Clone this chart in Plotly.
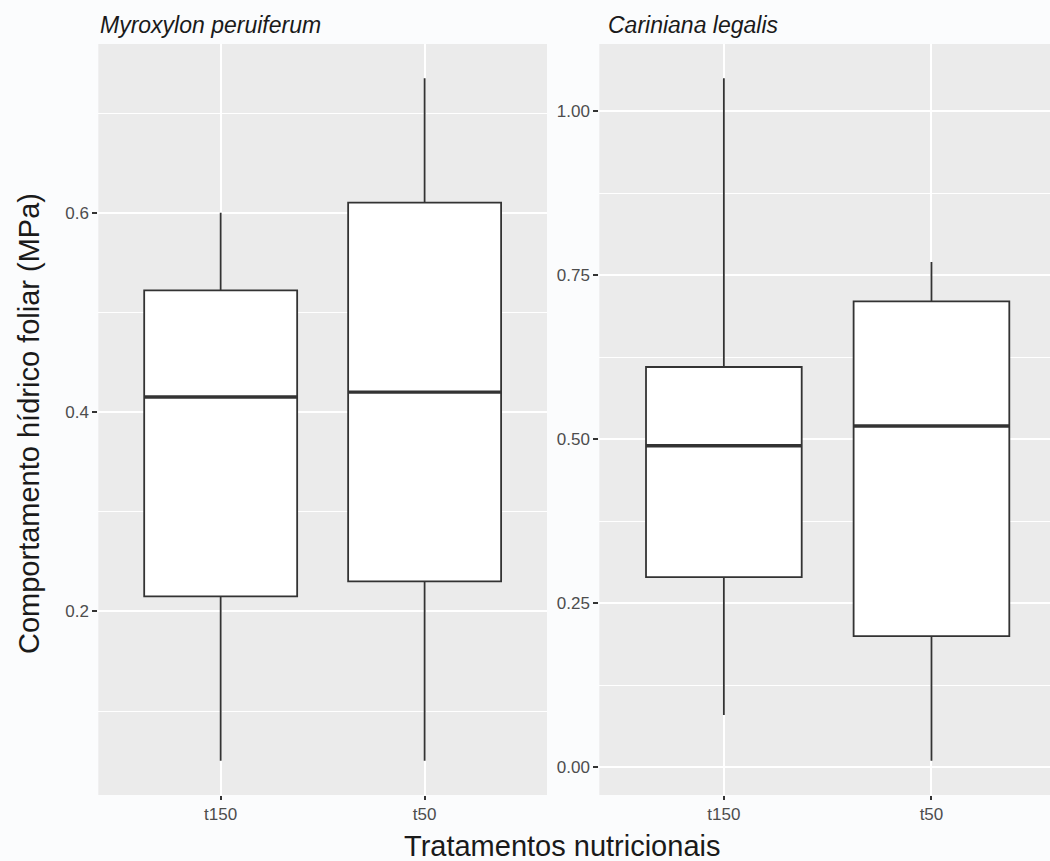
import plotly.graph_objects as go

species = ["Myroxylon peruiferum", "Cariniana legalis"]
treatments = ["t150", "t50"]

myro_lower = [0.05, 0.05]
myro_q1 = [0.215, 0.230]
myro_median = [0.415, 0.420]
myro_q3 = [0.522, 0.610]
myro_upper = [0.600, 0.735]

cari_lower = [0.08, 0.01]
cari_q1 = [0.290, 0.200]
cari_median = [0.490, 0.520]
cari_q3 = [0.610, 0.710]
cari_upper = [1.050, 0.770]

left_ticks = [0.2, 0.4, 0.6]
right_ticks = [0.0, 0.25, 0.5, 0.75, 1.0]
right_ticklabels = ["0.00", "0.25", "0.50", "0.75", "1.00"]

FONT = "Liberation Sans, Arial, Helvetica, sans-serif"
LINE = "#333333"
BOXW = 0.75
W, H = 1050, 861

fig = go.Figure()
xpos = list(range(len(treatments)))

panels = [
    (myro_lower, myro_q1, myro_median, myro_q3, myro_upper, "x", "y"),
    (cari_lower, cari_q1, cari_median, cari_q3, cari_upper, "x2", "y2"),
]
for lo, q1, med, q3, up, xa, ya in panels:
    fig.add_trace(go.Box(
        x=xpos, lowerfence=lo, q1=q1, median=med, q3=q3, upperfence=up,
        width=BOXW, whiskerwidth=0, fillcolor="white",
        line=dict(color=LINE, width=1.8), boxpoints=False,
        showlegend=False, xaxis=xa, yaxis=ya, hoverinfo="skip"))
    for i, m in zip(xpos, med):
        fig.add_trace(go.Scatter(
            x=[i - BOXW / 2, i + BOXW / 2], y=[m, m], mode="lines",
            line=dict(color=LINE, width=3.4), showlegend=False,
            xaxis=xa, yaxis=ya, hoverinfo="skip"))

def yrange(lo, up):
    mn, mx = min(lo), max(up)
    e = 0.05 * (mx - mn)
    return [mn - e, mx + e]

ydom = [66 / H, 817 / H]
tickfont = dict(size=17, color="#4D4D4D", family=FONT)
common_x = dict(tickvals=xpos, ticktext=treatments, showgrid=True, gridcolor="white",
                gridwidth=2, zeroline=False, ticks="outside", ticklen=4, tickwidth=1.5,
                tickcolor=LINE, tickfont=tickfont, showline=False)
common_y = dict(showgrid=True, gridcolor="white", gridwidth=2, zeroline=False,
                ticks="outside", ticklen=5, tickwidth=1.5, tickcolor=LINE,
                tickfont=tickfont, showline=False)

title_font = dict(size=23, color="#1A1A1A", family=FONT, style="italic")

fig.update_layout(
    width=W, height=H,
    margin=dict(l=0, r=0, t=0, b=0),
    paper_bgcolor="#FBFCFD",
    plot_bgcolor="#EBEBEB",
    font=dict(family=FONT),
    xaxis=dict(domain=[98.3 / W, 547 / W], range=[-0.6, 1.6], anchor="y", **common_x),
    xaxis2=dict(domain=[599.3 / W, 1.0], range=[-0.6, 1.571], anchor="y2", **common_x),
    yaxis=dict(domain=ydom, range=yrange(myro_lower, myro_upper), anchor="x",
               tickvals=left_ticks, ticktext=[f"{v:.1f}" for v in left_ticks],
               minor=dict(tickvals=[0.1, 0.3, 0.5, 0.7], showgrid=True,
                          gridcolor="white", gridwidth=1, ticks=""),
               **common_y),
    yaxis2=dict(domain=ydom, range=yrange(cari_lower, cari_upper), anchor="x2",
                tickvals=right_ticks, ticktext=right_ticklabels,
                minor=dict(tickvals=[0.125, 0.375, 0.625, 0.875], showgrid=True,
                           gridcolor="white", gridwidth=1, ticks=""),
                **common_y),
    annotations=[
        dict(text=species[0], x=98 / W, y=1 - 25 / H, xref="paper", yref="paper",
             xanchor="left", yanchor="middle", showarrow=False, font=title_font),
        dict(text=species[1], x=606 / W, y=1 - 25 / H, xref="paper", yref="paper",
             xanchor="left", yanchor="middle", showarrow=False, font=title_font),
        dict(text="Comportamento hídrico foliar (MPa)", x=29 / W, y=1 - 424 / H,
             xref="paper", yref="paper", xanchor="center", yanchor="middle",
             showarrow=False, textangle=-90,
             font=dict(size=29, color="#1A1A1A", family=FONT)),
        dict(text="Tratamentos nutricionais", x=562 / W, y=1 - 846 / H,
             xref="paper", yref="paper", xanchor="center", yanchor="middle",
             showarrow=False, font=dict(size=29, color="#1A1A1A", family=FONT)),
    ],
)

fig.write_html("out.html", config={"displayModeBar": False},
               post_script="document.body.style.margin='0';document.body.style.overflow='hidden';")
